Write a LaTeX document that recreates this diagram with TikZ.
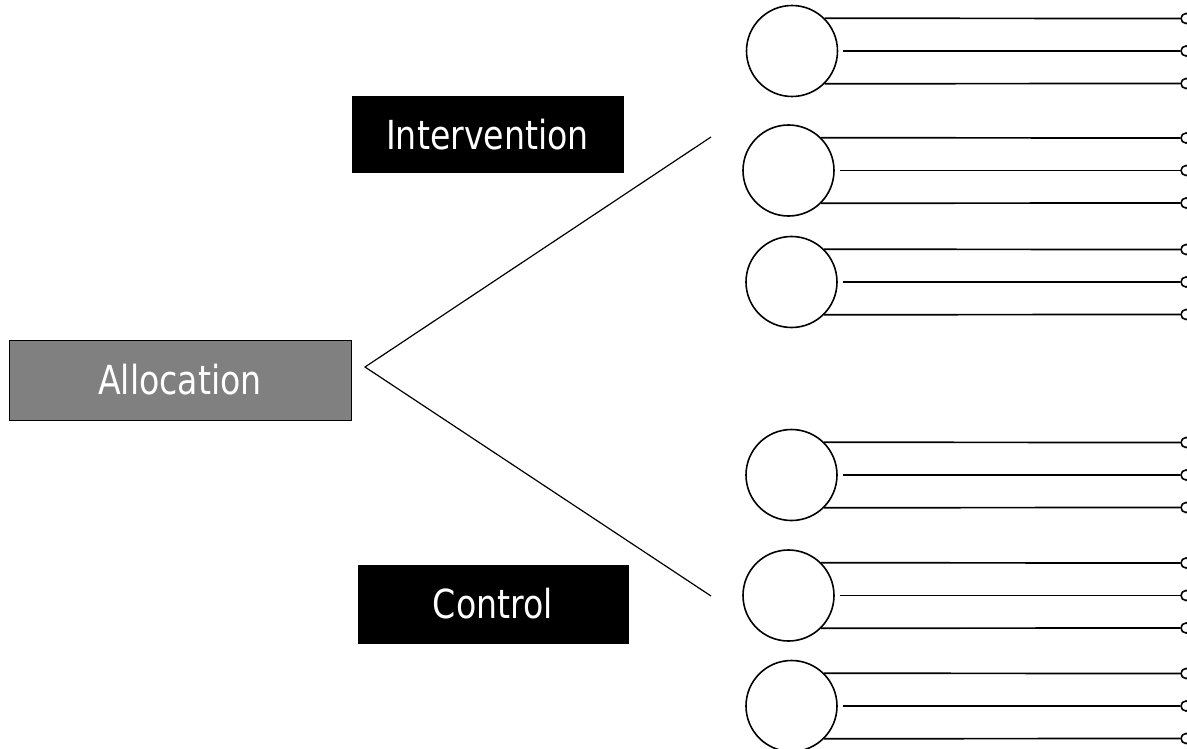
\documentclass[tikz,border=0pt]{standalone}
\usepackage{fontspec}
\setmainfont{DejaVu Sans}[FakeStretch=0.83]
\begin{document}
\begin{tikzpicture}[x=1pt,y=-1pt,
  lbl/.style={draw=black,line width=1pt,inner sep=0pt,text=white,
    font=\fontsize{40}{46}\selectfont},
  armbox/.style={lbl,fill=black},
  unit/.style={circle,draw=black,line width=1.6pt,minimum size=91pt,inner sep=0pt},
  endc/.style={circle,draw=black,line width=1.6pt,minimum size=10pt,inner sep=0pt},
  arm/.style={line width=1.7pt},
  branch/.style={line width=1.2pt}]
\useasboundingbox (0,0) rectangle (1187,749);
\clip (0,0) rectangle (1187,749);
\fill[white] (0,0) rectangle (1187,749);

\node[lbl,fill={rgb,255:red,128;green,128;blue,128},minimum width=342pt,minimum height=80pt] (alloc) at (180,380) {Allocation};
\node[armbox,minimum width=271pt,minimum height=76pt] (interv) at (487.5,135) {Intervention};
\node[armbox,minimum width=270pt,minimum height=78pt] (ctrl) at (493,604) {Control};

\coordinate (apex) at (365,367);
\coordinate (upend) at (711,137);
\coordinate (loend) at (711,596);
\draw[branch] (upend) -- (apex) -- (loend);

\foreach \n/\cx/\cy in {1/792/51,2/788.5/170.5,3/791.5/282,4/791.5/475,5/788.5/595.5,6/791.5/706}{
  \node[unit] (g\n) at (\cx,\cy) {};
  \node[endc] (e\n a) at (1186,\cy-32.5) {};
  \node[endc] (e\n b) at (1186,\cy) {};
  \node[endc] (e\n c) at (1186,\cy+32.5) {};
  \draw[arm] (g\n.45.6) -- (e\n a.west);
  \draw[arm] ([xshift=5pt]g\n.east) -- (e\n b.west);
  \draw[arm] (g\n.-45.6) -- (e\n c.west);
}
\end{tikzpicture}
\end{document}
